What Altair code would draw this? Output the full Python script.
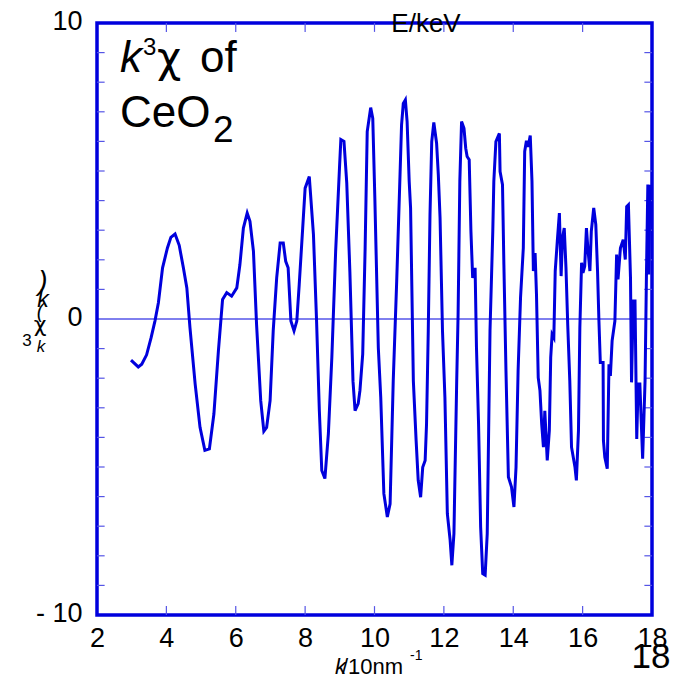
import altair as alt
import pandas as pd

# ---- data ----
k_vals = [2.98, 3.19, 3.29, 3.43, 3.56, 3.67, 3.77, 3.89, 4.03, 4.13, 4.25, 4.37, 4.49, 4.59, 4.68, 4.83,
          4.97, 5.11, 5.24, 5.37, 5.50, 5.62, 5.74, 5.88, 6.03, 6.12, 6.22, 6.33, 6.41, 6.51, 6.60, 6.72,
          6.81, 6.89, 6.99, 7.08, 7.18, 7.28, 7.37, 7.44, 7.51, 7.59, 7.68, 7.76, 7.83, 7.93, 8.00, 8.12,
          8.14, 8.24, 8.33, 8.41, 8.48, 8.57, 8.67, 8.77, 8.88, 8.99, 9.03, 9.12, 9.20, 9.29, 9.38, 9.44,
          9.53, 9.58, 9.66, 9.73, 9.79, 9.89, 9.95, 10.01, 10.11, 10.18, 10.27, 10.37, 10.45, 10.54, 10.64,
          10.73, 10.78, 10.83, 10.89, 10.94, 11.00, 11.04, 11.12, 11.20, 11.26, 11.33, 11.39, 11.46, 11.50,
          11.55, 11.60, 11.65, 11.71, 11.79, 11.84, 11.89, 11.96, 12.03, 12.10, 12.18, 12.23, 12.29, 12.37,
          12.41, 12.46, 12.51, 12.58, 12.63, 12.67, 12.73, 12.78, 12.83, 12.90, 12.94, 13.00, 13.06, 13.12,
          13.19, 13.25, 13.33, 13.41, 13.44, 13.50, 13.60, 13.62, 13.69, 13.73, 13.79, 13.86, 13.95, 14.02,
          14.08, 14.14, 14.21, 14.29, 14.33, 14.38, 14.43, 14.49, 14.54, 14.58, 14.63, 14.67, 14.72, 14.77,
          14.82, 14.87, 14.91, 14.98, 15.04, 15.08, 15.12, 15.17, 15.21, 15.27, 15.33, 15.38, 15.42, 15.47,
          15.52, 15.57, 15.63, 15.68, 15.78, 15.82, 15.88, 15.92, 15.97, 16.01, 16.06, 16.11, 16.15, 16.21,
          16.25, 16.32, 16.38, 16.43, 16.47, 16.51, 16.59, 16.60, 16.64, 16.71, 16.76, 16.80, 16.85, 16.93,
          16.98, 17.02, 17.09, 17.17, 17.23, 17.27, 17.32, 17.38, 17.41, 17.46, 17.51, 17.56, 17.60, 17.65,
          17.73, 17.80, 17.84, 17.88, 17.91, 17.94]
chi_vals = [-1.39, -1.62, -1.53, -1.21, -0.63, -0.07, 0.55, 1.73, 2.40, 2.76, 2.87, 2.49, 1.73, 1.05, -0.29, -2.2,
            -3.66, -4.44, -4.39, -3.21, -1.08, 0.66, 0.89, 0.77, 1.05, 1.84, 3.07, 3.58, 3.30, 2.29, -0.18, -2.76,
            -3.79, -3.66, -2.76, -0.40, 1.39, 2.57, 2.57, 1.95, 1.73, -0.07, -0.40, -0.07, 1.17, 3.07, 4.42, 4.81,
            4.48, 2.85, -0.07, -3.10, -5.12, -5.39, -3.88, -1.30, 2.29, 5.09, 6.06, 6.0, 4.6, 1.6, -2.1, -3.1,
            -2.86, -2.42, -1.19, 2.40, 6.33, 7.14, 6.78, 4.08, -0.97, -2.65, -5.90, -6.69, -6.24, -2.09, 1.28,
            4.65, 6.56, 7.28, 7.40, 6.67, 4.65, 3.75, -2.09, -4.11, -5.45, -6.02, -5.01, -4.78, -3.55,
            -0.40, 3.53, 5.99, 6.64, 5.94, 4.87, 3.41, -0.40, -2.65, -6.58, -7.47, -8.32, -7.25, -2.09,
            0.16, 4.65, 6.67, 6.44, 5.77, 5.49, 5.38, 2.96, 1.39, 1.73, -0.97, -3.55, -7.03, -8.60,
            -8.65, -7.25, -0.40, 2.96, 4.65, 5.99, 6.27, 4.98, 4.54, 1.84, -1.75, -5.34, -5.68, -6.35,
            -5.01, -1.75, 0.72, 2.40, 5.66, 6.02, 5.82, 6.20, 4.65, 1.62, 2.23, 0.83, -1.98, -2.42,
            -3.55, -4.33, -3.10, -4.78, -3.77, -1.30, -0.52, -0.63, 1.62, 2.63, 3.58, 1.45, 2.74, 3.07,
            1.73, -0.18, -2.09, -4.33, -5.01, -5.45, -3.77, -0.29, 1.90, 1.56, 1.78, 3.07, 2.40, 1.62,
            2.96, 3.75, 3.19, 1.62, -0.07, -1.47, -1.47, -4.11, -4.67, -5.06, -1.53, -1.92, -0.74, -0.07,
            2.18, 1.34, 2.40, 2.68, 2.01, 3.80, 3.86, 1.39, -2.14, 0.61, 0.61, -4.05, -2.20, -2.20,
            -4.72, -2.09, 1.50, 4.54, 1.50, 4.54]
x_tick_labels = [2, 4, 6, 8, 10, 12, 14, 16, 18]
x_minor_ticks = [4, 6, 8, 10, 12, 14, 16]
y_tick_labels = [-10, 0, 10]
y_minor_ticks = [-9, -8, -7, -6, -5, -4, -3, -2, -1, 1, 2, 3, 4, 5, 6, 7, 8, 9]

BLUE = "#0000DD"
TICK = "#5555E6"
NARROW = "Liberation Sans Narrow, Arial Narrow, Liberation Sans, Arial, sans-serif"
SANS = "Liberation Sans, Arial, sans-serif"
GREEK = "DejaVu Sans, Noto Sans, sans-serif"

df = pd.DataFrame({"i": list(range(len(k_vals))), "k": k_vals, "chi": chi_vals})
df_xt = pd.DataFrame({"k": x_minor_ticks})
df_yt = pd.DataFrame({"y": y_minor_ticks})

xs = alt.Scale(domain=[2, 18], nice=False, zero=False)
ys = alt.Scale(domain=[-10, 10], nice=False, zero=False)

line = alt.Chart(df).mark_line(color=BLUE, strokeWidth=3, strokeJoin="miter").encode(
    x=alt.X("k:Q", scale=xs, axis=alt.Axis(values=x_tick_labels, title=None, domain=False, ticks=False,
                                           grid=False, labelFont=NARROW, labelFontSize=27, labelColor="black",
                                           labelPadding=10, labelFlush=False, labelOverlap=False,
                                           labelBound=False)),
    y=alt.Y("chi:Q", scale=ys, axis=alt.Axis(values=y_tick_labels, title=None, domain=False, ticks=False,
                                             grid=False, labelFont=NARROW, labelFontSize=27, labelColor="black",
                                             labelPadding=15, labelOffset=-2, labelFlush=False,
                                             labelOverlap=False,
                                             labelExpr="datum.value == -10 ? '- 10' : datum.label")),
    order="i:Q",
)

zero = alt.Chart(pd.DataFrame({"y": [0]})).mark_rule(color=BLUE, strokeWidth=1).encode(
    y=alt.Y("y:Q", scale=ys), x=alt.datum(2), x2=alt.datum(18))

tick_b = alt.Chart(df_xt).mark_rule(color=TICK, strokeWidth=1.2).encode(
    x=alt.X("k:Q", scale=xs), y=alt.datum(-10), y2=alt.datum(-9.7))
tick_t = alt.Chart(df_xt).mark_rule(color=TICK, strokeWidth=1.2).encode(
    x=alt.X("k:Q", scale=xs), y=alt.datum(10), y2=alt.datum(9.7))
tick_l = alt.Chart(df_yt).mark_rule(color=TICK, strokeWidth=1.2).encode(
    y=alt.Y("y:Q", scale=ys), x=alt.datum(2), x2=alt.datum(2.22))
tick_r = alt.Chart(df_yt).mark_rule(color=TICK, strokeWidth=1.2).encode(
    y=alt.Y("y:Q", scale=ys), x=alt.datum(18), x2=alt.datum(17.78))


def txt(s, x, y, size, font=SANS, italic=False, align="left", baseline="alphabetic"):
    return alt.Chart(pd.DataFrame({"t": [s]})).mark_text(
        font=font, fontSize=size, fontStyle="italic" if italic else "normal",
        align=align, baseline=baseline, color="black").encode(
        x=alt.value(x), y=alt.value(y), text="t:N")


texts = [
    # panel title  k^3 chi of CeO2
    txt("k", 23, 49, 44, italic=True),
    txt("3", 46, 32, 24),
    txt("χ", 60, 49, 42, font=GREEK),
    txt("of", 103, 49, 44),
    txt("CeO", 23, 104, 44),
    txt("2", 116, 119, 37),
    # top label
    txt("E/keV", 329, 9, 26, font=NARROW, align="center"),
    # x title  k/10nm^-1
    txt("k", 238, 651, 22, italic=True),
    txt("/10nm", 245, 651, 22, font=NARROW),
    txt("-1", 313, 637, 14, font=NARROW),
    # page number
    txt("18", 554, 645, 35, align="center"),
    # y title (stacked characters)
    txt(")", -54, 259, 28, italic=True, align="center", baseline="middle"),
    txt("k", -54, 277, 23, italic=True, align="center", baseline="middle"),
    txt("(", -57, 289, 20, italic=True, align="center", baseline="middle"),
    txt("χ", -57, 302, 22, font=GREEK, align="center", baseline="middle"),
    txt("3", -70, 318, 17, align="center", baseline="middle"),
    txt("k", -56, 324, 17, italic=True, align="center", baseline="middle"),
]

chart = alt.layer(zero, tick_b, tick_t, tick_l, tick_r, line, *texts).properties(
    width=555, height=592,
    autosize=alt.AutoSizeParams(type="none"),
    padding={"left": 97, "top": 23, "right": 25, "bottom": 81},
    background="white",
).configure_view(stroke=BLUE, strokeWidth=3.5)

chart.save("out.html", embed_options={"renderer": "svg", "actions": False})
